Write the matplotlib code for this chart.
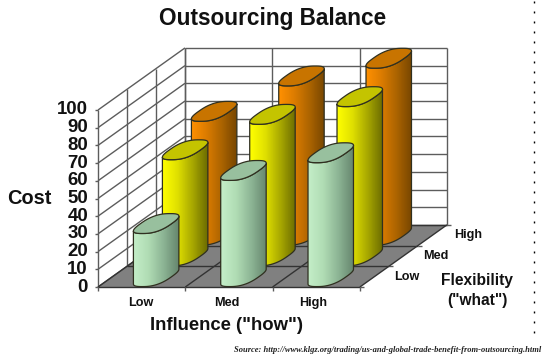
import numpy as np
import matplotlib
matplotlib.use("Agg")
import matplotlib.pyplot as plt
from matplotlib.colors import LinearSegmentedColormap
from matplotlib.patches import Polygon

plt.rcParams['font.family'] = ['Liberation Sans', 'DejaVu Sans']

influence = ["Low", "Med", "High"]
flexibility = ["Low", "Med", "High"]
cost_ticks = [0, 10, 20, 30, 40, 50, 60, 70, 80, 90, 100]

cost_low = [30, 60, 70]
cost_med = [60, 80, 90]
cost_high = [70, 90, 100]

# un degradado por fila, de izquierda a derecha
colores = {
    0: (["#c4eec8", "#b0dcb4", "#8cb494", "#66866e"], "#98c09e"),
    1: (["#ffff00", "#e0e000", "#a8a800", "#6c6c00"], "#c4c400"),
    2: (["#ff9000", "#dc7c00", "#ac6400", "#784600"], "#c87400"),
}

fig = plt.figure(figsize=(5.42, 3.56), dpi=100)
ax = fig.add_axes([0, 0, 1, 1])
ax.set_xlim(0, 542)
ax.set_ylim(356, 0)
ax.axis("off")


# proyeccion oblicua: categoria, profundidad, valor -> pixel
def proy(c, p, v):
    c, p, v = np.asarray(c, float), np.asarray(p, float), np.asarray(v, float)
    return 98 + c * 87.3 + p * 29.0, 287 - p * 20.7 - v * 1.77


def linea(a, b, col="#5c5c5c", lw=1.0, z=1):
    xa, ya = proy(*a)
    xb, yb = proy(*b)
    ax.plot([xa, xb], [ya, yb], color=col, lw=lw, zorder=z, solid_capstyle="butt")


# suelo
xs, ys = proy([0, 3, 3, 0], [0, 0, 3, 3], [0, 0, 0, 0])
ax.add_patch(Polygon(np.c_[xs, ys], fc="#808080", ec="none", zorder=0.5))

# paredes
for v in cost_ticks:
    linea((0, 0, v), (0, 3, v))
    linea((0, 3, v), (3, 3, v))
    linea((-0.03, 0, v), (0, 0, v))
for p in range(4):
    linea((0, p, 0), (0, p, 100))
    linea((0, p, 0), (3, p, 0), col="#333333")
    linea((3, p, 0), (3.05, p, 0))
for c in range(4):
    linea((c, 3, 0), (c, 3, 100))
    linea((c, 0, 0), (c, 3, 0), col="#333333")
    linea((c, 0, -2.5), (c, 0, 0))


def cilindro(c, p, v, filas, tope, z):
    cx, cp = c + 0.5, p + 0.5
    t = np.linspace(0, 2 * np.pi, 200)
    rc, rp = 0.178, 0.48
    ex = rc * np.sign(np.cos(t)) * np.abs(np.cos(t)) ** 0.75
    ep = rp * np.sign(np.sin(t)) * np.abs(np.sin(t)) ** 0.75
    x0, y0 = proy(cx + ex, cp + ep, np.zeros_like(t))
    x1, y1 = proy(cx + ex, cp + ep, np.full_like(t, v))
    i_izq, i_der = np.argmin(x0), np.argmax(x0)
    # contorno del cuerpo: borde frontal abajo y borde frontal arriba
    a, b = sorted((i_izq, i_der))
    idx = np.arange(a, b + 1)
    if y0[idx].mean() < y0.mean():
        idx = np.r_[np.arange(b, len(t)), np.arange(0, a + 1)]
    if x0[idx[0]] > x0[idx[-1]]:
        idx = idx[::-1]
    cuerpo = np.r_[np.c_[x0[idx], y0[idx]], np.c_[x1[idx], y1[idx]][::-1]]
    cmap = LinearSegmentedColormap.from_list("c", filas)
    im = ax.imshow(np.linspace(0, 1, 64)[None, :], cmap=cmap, aspect="auto", zorder=z,
                   extent=(x0.min(), x0.max(), y0.max(), y1.min()))
    clip = Polygon(cuerpo, transform=ax.transData, fc="none", ec="#303020", lw=0.9, zorder=z + 0.1)
    ax.add_patch(clip)
    im.set_clip_path(clip)
    ax.add_patch(Polygon(np.c_[x1, y1], fc=tope, ec="#303020", lw=0.9, zorder=z + 0.2))


filas = [cost_low, cost_med, cost_high]
for p in [2, 1, 0]:
    for c in range(3):
        cilindro(c, p, filas[p][c], *colores[p], z=10 + (2 - p) * 3 + c * 0.5)
ax.set_xlim(0, 542)
ax.set_ylim(356, 0)

# textos
neg = dict(fontweight="bold", color="#111111", ha="center", va="center")
for v in cost_ticks:
    x, y = proy(0, 0, v)
    ax.text(x - 10, y, str(v), fontsize=13.4, fontweight="bold", color="#111111", ha="right", va="center")
for c, nombre in enumerate(influence):
    ax.text(141 + c * 86, 303, nombre, fontsize=9.1, **neg)
for x, y, nombre in zip([407, 436, 468], [277, 256, 235], flexibility):
    ax.text(x, y, nombre, fontsize=9.1, **neg)

ax.text(273, 18, "Outsourcing Balance", fontsize=16.3, **neg)
ax.text(29, 198, "Cost", fontsize=14.4, **neg)
ax.text(227, 325, "Influence (\"how\")", fontsize=13.3, **neg)
ax.text(477, 280, "Flexibility", fontsize=11.2, **neg)
ax.text(477, 300, "(\"what\")", fontsize=11.2, **neg)
ax.text(541, 350, "Source: http://www.klgz.org/trading/us-and-global-trade-benefit-from-outsourcing.html",
        fontsize=6.1, family=["Liberation Serif"], style="italic", fontweight="bold", color="#222222",
        ha="right", va="center")

# borde punteado del recorte
ax.plot([534, 534], [1, 333], color="black", lw=1.0, ls=(0, (1.4, 5.8)), zorder=30)

fig.savefig("out.png", dpi=100)
